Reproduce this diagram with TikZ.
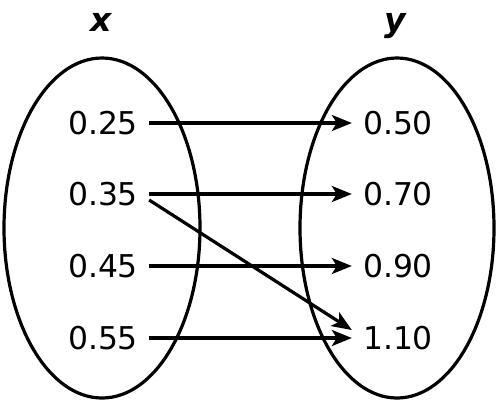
\documentclass[tikz,border=0pt]{standalone}
\usepackage{fontspec}
\setmainfont{DejaVu Sans}
\usetikzlibrary{arrows.meta}
\begin{document}
\begin{tikzpicture}[x=1bp,y=-1bp,
                    maparrow/.style = {line width=3.2bp,-{Stealth[length=20bp,width=16bp,inset=5bp]}},
                    num/.style = {inner xsep=11bp,inner ysep=0pt,font=\fontsize{31.4bp}{36bp}\selectfont},
                    setname/.style = {anchor=base,font=\fontsize{33bp}{38bp}\selectfont\bfseries\itshape}]
                    \useasboundingbox (0,0) rectangle (498,412);

                    \draw[line width=3.2bp] (102,228) ellipse [x radius=98bp, y radius=170bp];
                    \draw[line width=3.2bp] (397,228) ellipse [x radius=97bp, y radius=170bp];

                    \node[setname] (xname) at (101,31) {x};
                    \node[setname] (yname) at (395,31) {y};

                    \node[num] (a1) at (103,123) {0.25};
                    \node[num] (a2) at (103,194) {0.35};
                    \node[num] (a3) at (103,266) {0.45};
                    \node[num] (a4) at (103,338) {0.55};

                    \node[num] (b1) at (398,123) {0.50};
                    \node[num] (b2) at (398,194) {0.70};
                    \node[num] (b3) at (398,266) {0.90};
                    \node[num] (b4) at (398,338) {1.10};

                    \draw[maparrow] (a1.east) -- (b1.west);
                    \draw[maparrow] (a2.east) -- (b2.west);
                    \draw[maparrow] (a3.east) -- (b3.west);
                    \draw[maparrow] (a4.east) -- (b4.west);
                    \draw[maparrow] ([yshift=-6bp]a2.east) -- ([yshift=8bp]b4.west);
                \end{tikzpicture}
\end{document}
